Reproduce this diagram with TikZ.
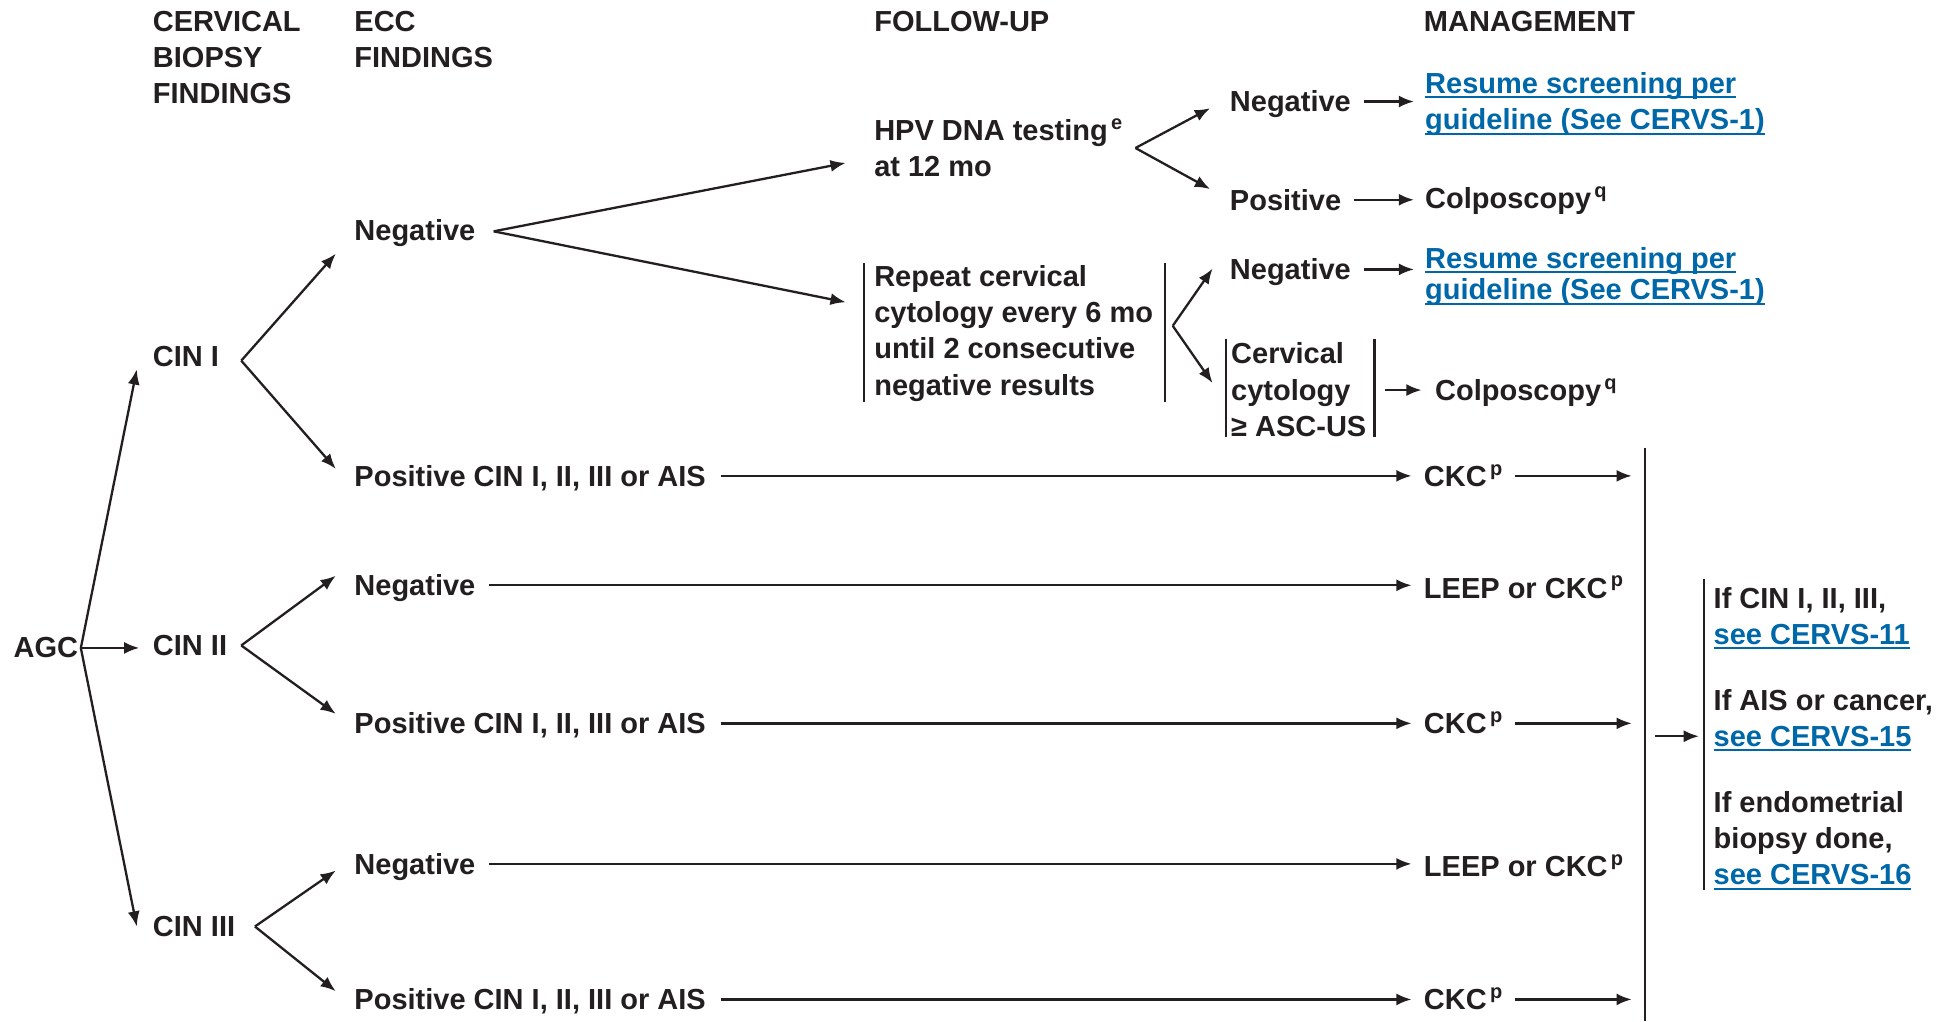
\documentclass[tikz,border=0pt]{standalone}
\usepackage{fontspec}
\setmainfont{Liberation Sans}
\usetikzlibrary{arrows.meta}
\definecolor{ink}{RGB}{35,31,32}
\definecolor{linkblue}{RGB}{0,104,168}
% underlined link text
\newcommand\lnk[1]{{\color{linkblue}\setbox0\hbox{#1}\rlap{\rule[-2.4pt]{\wd0}{0.95pt}}\box0}}
% footnote marker
\newcommand\sups[1]{\kern1.6pt\raisebox{5.6pt}{\fontsize{10}{10}\selectfont #1}}

\begin{document}
\begin{tikzpicture}[x=0.6218pt,y=-0.6218pt,
  every node/.style={inner sep=0pt, outer sep=0pt, text=ink,
    font=\fontsize{14.5}{18.2}\selectfont\bfseries},
  lbl/.style={anchor=base west, text height=10.4pt, text depth=0pt},
  blk/.style={anchor=base west, align=left},
  ln/.style={draw=ink, line width=1.15pt},
  arr/.style={ln, -{Latex[length=7.6pt,width=6pt]}},
  gap/.style={shorten <=#1},
]
\fill[white] (0,0) rectangle (1568,821);
\useasboundingbox (0,0) rectangle (1568,821);

% column headings (multi-line nodes are placed at the baseline of their last line)
\node[blk] (hbio) at (123,83.6) {CERVICAL\\BIOPSY\\FINDINGS};
\node[blk] (hecc) at (285,54.3) {ECC\\FINDINGS};
\node[lbl] (hfu)  at (703,25) {FOLLOW-UP};
\node[lbl] (hmg)  at (1145,25) {MANAGEMENT};

% biopsy results
\node[lbl] (agc)  at (11,529)  {AGC};
\node[lbl] (cin1) at (123,295) {CIN I};
\node[lbl] (cin2) at (123,527) {CIN II};
\node[lbl] (cin3) at (123,753) {CIN III};

% ECC results
\node[lbl] (neg1) at (285,193) {Negative};
\node[lbl] (pos1) at (285,391) {Positive CIN I, II, III or AIS};
\node[lbl] (neg2) at (285,479) {Negative};
\node[lbl] (pos2) at (285,590) {Positive CIN I, II, III or AIS};
\node[lbl] (neg3) at (285,703) {Negative};
\node[lbl] (pos3) at (285,812) {Positive CIN I, II, III or AIS};

% follow-up
\node[blk] (hpv) at (703,142.3) {HPV DNA testing\sups{e}\\at 12 mo};
\node[blk] (rep) at (703,317.9) {Repeat cervical\\cytology every 6 mo\\until 2 consecutive\\negative results};

\node[lbl] (hneg) at (989,90)  {Negative};
\node[lbl] (hpos) at (989,169) {Positive};
\node[lbl] (rneg) at (989,225) {Negative};
\node[blk] (cyto) at (990,351) {Cervical\\cytology\\≥ ASC-US};

% management
\node[blk] (res1) at (1146,104.3) {\lnk{Resume screening per}\\\lnk{guideline (See CERVS-1)}};
\node[lbl] (col1) at (1146,168) {Colposcopy\sups{q}};
\node[blk] (res2) at (1146,241) {\lnk{Resume screening per}\\[-2.6pt]\lnk{guideline (See CERVS-1)}};
\node[lbl] (col2) at (1154,322) {Colposcopy\sups{q}};

\node[lbl] (ckc1)  at (1145,391) {CKC\sups{p}};
\node[lbl] (leep2) at (1145,481) {LEEP or CKC\sups{p}};
\node[lbl] (ckc2)  at (1145,590) {CKC\sups{p}};
\node[lbl] (leep3) at (1145,705) {LEEP or CKC\sups{p}};
\node[lbl] (ckc3)  at (1145,812) {CKC\sups{p}};

\node[blk] (r1) at (1378,518.3) {If CIN I, II, III,\\\lnk{see CERVS-11}};
\node[blk] (r2) at (1378,600.3) {If AIS or cancer,\\\lnk{see CERVS-15}};
\node[blk] (r3) at (1378,711.6) {If endometrial\\biopsy done,\\\lnk{see CERVS-16}};

% fork points and arrow ends
\coordinate (fa)  at (65,521);
\coordinate (ta1) at (110,297);
\coordinate (ta2) at (112,521);
\coordinate (ta3) at (110,745);
\coordinate (f1)  at (194,290);
\coordinate (t11) at (270,204);
\coordinate (t12) at (270,377);
\coordinate (f2)  at (194,519);
\coordinate (t21) at (270,463);
\coordinate (t22) at (270,574);
\coordinate (f3)  at (205,745);
\coordinate (t31) at (270,700);
\coordinate (t32) at (270,797);
\coordinate (fn)  at (397,186);
\coordinate (tn1) at (680,131);
\coordinate (tn2) at (680,243);
\coordinate (fh)  at (913,119);
\coordinate (th1) at (973,87);
\coordinate (th2) at (973,152);
\coordinate (fr)  at (943,262);
\coordinate (tr1) at (975,216);
\coordinate (tr2) at (975,308);
\coordinate (vtop) at (1323,360);
\coordinate (vbot) at (1323,821);
\coordinate (vmid) at (1323,592);

% forks
\draw[arr] (fa) -- (ta1);
\draw[arr] (fa) -- (ta2);
\draw[arr] (fa) -- (ta3);
\draw[arr] (f1) -- (t11);
\draw[arr] (f1) -- (t12);
\draw[arr] (f2) -- (t21);
\draw[arr] (f2) -- (t22);
\draw[arr] (f3) -- (t31);
\draw[arr] (f3) -- (t32);
\draw[arr] (fn) -- (tn1);
\draw[arr] (fn) -- (tn2);
\draw[arr] (fh) -- (th1);
\draw[arr] (fh) -- (th2);
\draw[arr] (fr) -- (tr1);
\draw[arr] (fr) -- (tr2);

% bracket bars
\draw[ln] ([xshift=-5pt,yshift=1pt]rep.north west) -- ([xshift=-5pt]rep.south west);
\draw[ln] ([xshift=6pt,yshift=1pt]rep.north east) -- ([xshift=6pt]rep.south east);
\draw[ln] ([xshift=-2.5pt,yshift=2pt]cyto.north west) -- ([xshift=-2.5pt]cyto.south west);
\draw[ln] ([xshift=4pt,yshift=2pt]cyto.north east) -- ([xshift=4pt]cyto.south east);
\draw[ln] ([xshift=-5pt,yshift=4pt]r1.north west) -- ([xshift=-5pt]r3.south west);
\draw[ln] (vtop) -- (vbot);

% horizontal connectors
\draw[arr, gap=6.8pt, shorten >=5.6pt] (hneg.east) -- (hneg.east -| res1.west);
\draw[arr, gap=6.2pt, shorten >=5.6pt] (hpos.east) -- (hpos.east -| col1.west);
\draw[arr, gap=6.8pt, shorten >=5.6pt] (rneg.east) -- (rneg.east -| res2.west);
\draw[arr, gap=9.5pt, shorten >=6.8pt] (cyto.east |- col2.east) -- (col2.west);
\draw[arr, gap=7.4pt, shorten >=6.2pt] (pos1.east) -- (pos1.east -| ckc1.west);
\draw[arr, gap=6.8pt, shorten >=6.2pt] (neg2.east) -- (neg2.east -| leep2.west);
\draw[arr, gap=7.4pt, shorten >=6.2pt] (pos2.east) -- (pos2.east -| ckc2.west);
\draw[arr, gap=6.8pt, shorten >=6.2pt] (neg3.east) -- (neg3.east -| leep3.west);
\draw[arr, gap=7.4pt, shorten >=6.2pt] (pos3.east) -- (pos3.east -| ckc3.west);
\draw[arr, gap=6.2pt, shorten >=6.8pt] (ckc1.east) -- (ckc1.east -| vtop);
\draw[arr, gap=6.2pt, shorten >=6.8pt] (ckc2.east) -- (ckc2.east -| vtop);
\draw[arr, gap=6.2pt, shorten >=6.8pt] (ckc3.east) -- (ckc3.east -| vtop);
\draw[arr, gap=5pt, shorten >=7.4pt] (vmid) -- (vmid -| r2.west);
\end{tikzpicture}
\end{document}
